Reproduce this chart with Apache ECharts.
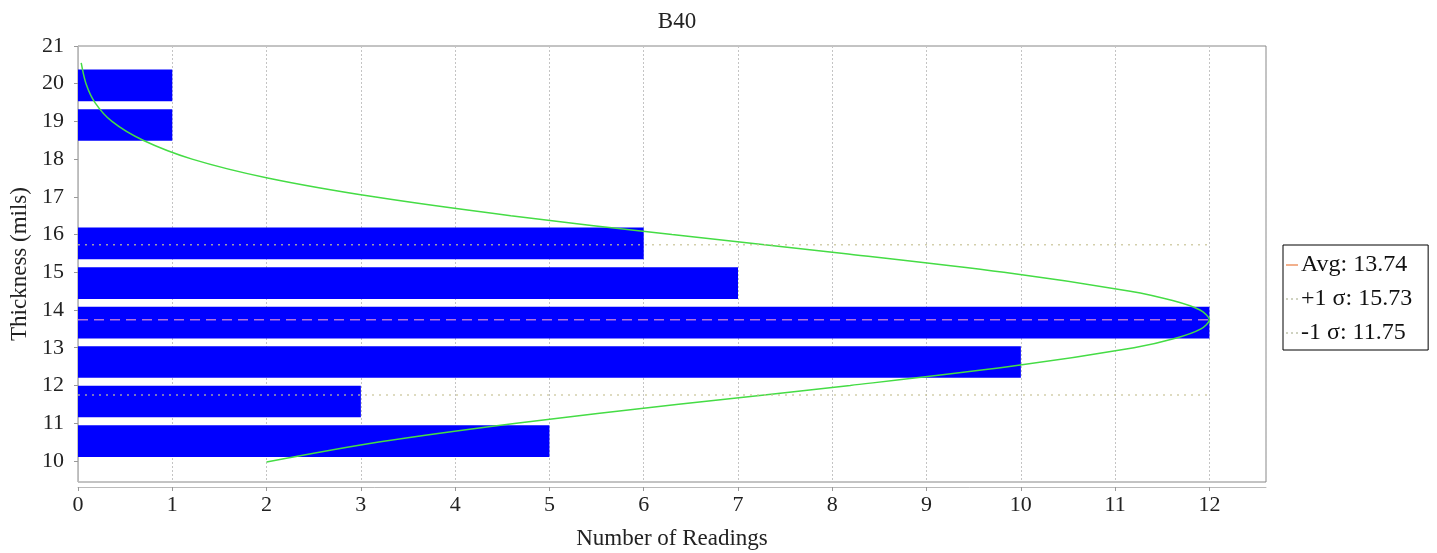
<!DOCTYPE html>
<html>
<head>
<meta charset="utf-8">
<script src="https://cdn.jsdelivr.net/npm/echarts@6/dist/echarts.min.js"></script>
<style>html,body{margin:0;padding:0;background:#fff}#c{width:1437px;height:553px}</style>
</head>
<body>
<div id="c"></div>
<script>
// ---- data ----
const titleText = 'B40';
const xAxisName = 'Number of Readings';
const yAxisName = 'Thickness (mils)';
const binEdges = [10.00, 11.05, 12.10, 13.14, 14.19, 15.24, 16.29, 17.34, 18.38, 19.43, 20.48];
const binCounts = [5, 3, 10, 12, 7, 6, 0, 0, 1, 1];
const avgValue = 13.74;
const plusSigma = 15.73;
const minusSigma = 11.75;
const curveY = [9.97, 10.5, 11.0, 11.5, 12.0, 12.5, 13.0, 13.25, 13.5, 13.74, 14.0, 14.25, 14.5, 15.0, 15.5, 16.0, 16.5, 17.0, 17.5, 18.0, 18.5, 19.0, 19.5, 20.0, 20.55];
const curveX = [2.00, 3.19, 4.65, 6.37, 8.19, 9.88, 11.20, 11.64, 11.91, 12.00, 11.90, 11.61, 11.16, 9.82, 8.12, 6.30, 4.59, 3.14, 2.01, 1.21, 0.69, 0.36, 0.18, 0.085, 0.034];
const xMin = 0, xMax = 12.6, yMin = 9.44, yMax = 21;

// ---- build ----
const font = 'Liberation Serif';
const barData = binCounts.map((c, i) => [c, binEdges[i], binEdges[i + 1]]);
const curveData = curveY.map((y, i) => [curveX[i], y]);
const lineEnd = Math.max(...binCounts);
const avgName = 'Avg: ' + avgValue.toFixed(2);
const plusName = '+1 σ: ' + plusSigma.toFixed(2);
const minusName = '-1 σ: ' + minusSigma.toFixed(2);
const dotIcon = 'path://M0,0h2v2h-2z M5,0h2v2h-2z M10,0h2v2h-2z';

const chart = echarts.init(document.getElementById('c'), null, {renderer: 'canvas'});
chart.setOption({
  animation: false,
  backgroundColor: '#fff',
  title: {
    text: titleText, left: 672, top: 5, textAlign: 'center',
    textStyle: {fontFamily: font, fontSize: 23, fontWeight: 'normal', color: '#222'}
  },
  legend: {
    orient: 'vertical', left: 1283, top: 245,
    data: [
      {name: avgName, icon: 'rect', itemStyle: {color: '#f2b08c'}},
      {name: plusName, icon: dotIcon, itemStyle: {color: '#cfd2c0'}},
      {name: minusName, icon: dotIcon, itemStyle: {color: '#cfd2c0'}}
    ],
    backgroundColor: '#fff', borderColor: '#000', borderWidth: 1, borderRadius: 0,
    padding: [8, 16, 5, 3], itemGap: 10, itemWidth: 12, itemHeight: 2,
    textStyle: {fontFamily: font, fontSize: 24, color: '#111', lineHeight: 24, padding: [0, 0, 0, -2]}
  },
  grid: {
    left: 78, right: 171, top: 46, bottom: 71, containLabel: false, outerBoundsMode: 'none',
    show: true, borderColor: '#888', borderWidth: 1, backgroundColor: '#fff'
  },
  xAxis: {
    type: 'value', min: xMin, max: xMax, interval: 1, offset: 5,
    name: xAxisName, nameLocation: 'middle', nameGap: 40,
    nameTextStyle: {fontFamily: font, fontSize: 23, color: '#222'},
    axisLine: {show: true, lineStyle: {color: '#bbb'}},
    axisTick: {show: true, length: 4, lineStyle: {color: '#999'}},
    axisLabel: {fontFamily: font, fontSize: 22, color: '#222', margin: 7, showMaxLabel: false},
    splitLine: {show: true, lineStyle: {color: '#c4c4c4', type: [2, 2], width: 1}}
  },
  yAxis: {
    type: 'value', min: yMin, max: yMax, splitNumber: 12, minInterval: 1, maxInterval: 1, offset: 5,
    name: yAxisName, nameLocation: 'middle', nameGap: 42, nameRotate: 90,
    nameTextStyle: {fontFamily: font, fontSize: 23, color: '#222'},
    axisLine: {show: true, lineStyle: {color: '#bbb'}},
    axisTick: {show: true, length: 4, lineStyle: {color: '#999'}},
    axisLabel: {fontFamily: font, fontSize: 22, color: '#222', margin: 9, showMinLabel: false,
      formatter: v => (Math.abs(v - Math.round(v)) < 1e-6 ? String(Math.round(v)) : '')},
    splitLine: {show: false}
  },
  series: [
    {
      type: 'custom', name: 'bins', z: 2,
      data: barData,
      encode: {x: 0, y: [1, 2]},
      renderItem: (params, api) => {
        const cnt = api.value(0), lo = api.value(1), hi = api.value(2);
        if (cnt <= 0) return null;
        const pad = (hi - lo) * 0.1;
        const p1 = api.coord([0, hi - pad]);
        const p2 = api.coord([cnt, lo + pad]);
        return {type: 'rect', shape: {x: p1[0], y: p1[1], width: p2[0] - p1[0], height: p2[1] - p1[1]},
          style: {fill: '#0000ff'}};
      }
    },
    {
      type: 'line', name: 'curve', z: 4, smooth: 0.3, symbol: 'none',
      data: curveData,
      lineStyle: {color: '#45dc45', width: 1.5}
    },
    {
      type: 'line', name: avgName, z: 5, symbol: 'none',
      data: [[0, avgValue], [lineEnd, avgValue]],
      lineStyle: {color: 'rgba(245,165,205,0.72)', width: 1.5, type: [10, 6]},
      itemStyle: {color: '#f2b08c'}
    },
    {
      type: 'line', name: plusName, z: 5, symbol: 'none',
      data: [[0, plusSigma], [lineEnd, plusSigma]],
      lineStyle: {color: 'rgba(200,195,150,0.8)', width: 1.5, type: [2, 5]},
      itemStyle: {color: '#cfd2c0'}
    },
    {
      type: 'line', name: minusName, z: 5, symbol: 'none',
      data: [[0, minusSigma], [lineEnd, minusSigma]],
      lineStyle: {color: 'rgba(200,195,150,0.8)', width: 1.5, type: [2, 5]},
      itemStyle: {color: '#cfd2c0'}
    }
  ]
});
</script>
</body>
</html>
